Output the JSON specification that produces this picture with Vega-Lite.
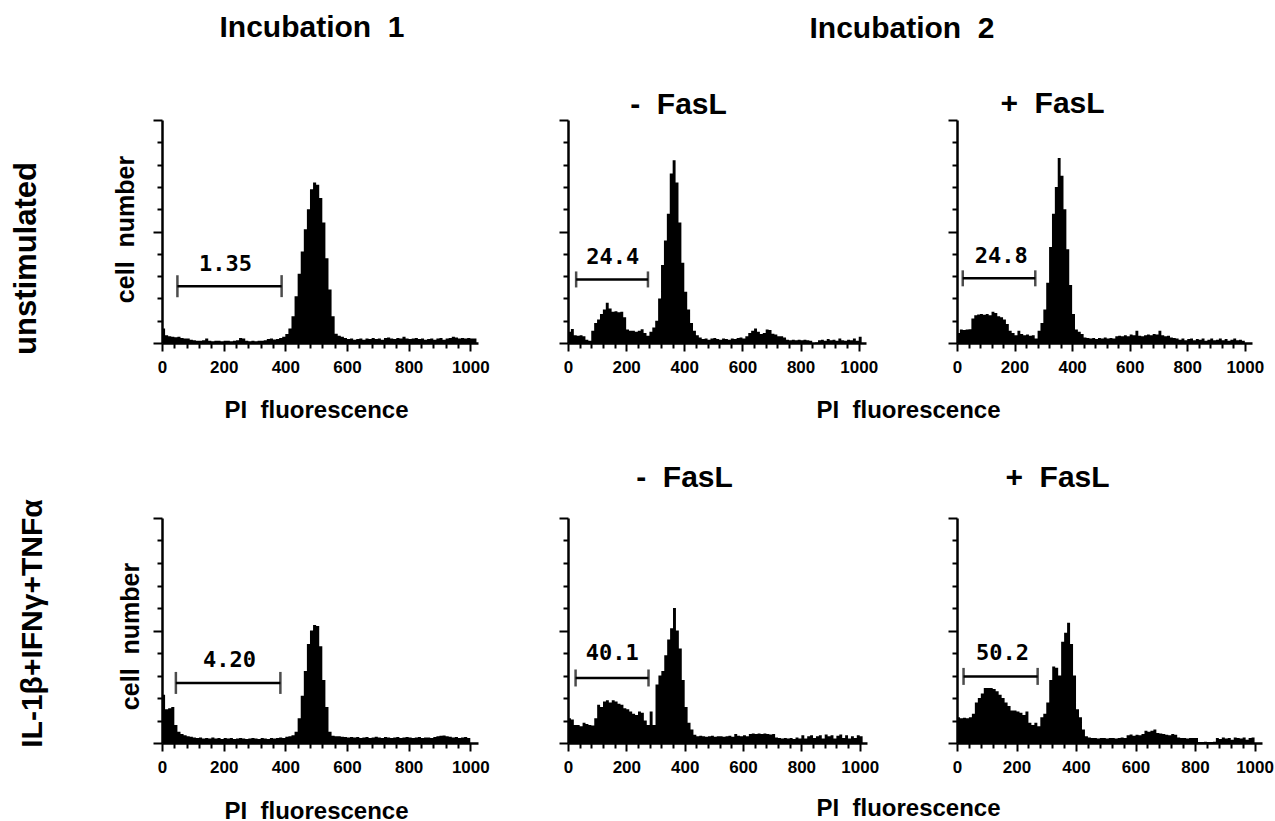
{
"$schema": "https://vega.github.io/schema/vega-lite/v6.json",
"background": "white",
"padding": {"left": 10, "top": 13, "right": 5, "bottom": 5},
"columns": 3,
"spacing": {"row": 175, "column": 90},
"bounds": "flush",
"align": "each",
"datasets": {
"h": [
{"p":"a","x":0,"y":0.65},{"p":"a","x":10,"y":0.35},{"p":"a","x":20,"y":0.3},{"p":"a","x":30,"y":0.28},{"p":"a","x":40,"y":0.26},{"p":"a","x":50,"y":0.28},{"p":"a","x":60,"y":0.22},{"p":"a","x":70,"y":0.2},{"p":"a","x":80,"y":0.2},{"p":"a","x":90,"y":0.15},
{"p":"a","x":100,"y":0.12},{"p":"a","x":110,"y":0.1},{"p":"a","x":120,"y":0.1},{"p":"a","x":130,"y":0.12},{"p":"a","x":140,"y":0.2},{"p":"a","x":150,"y":0.1},{"p":"a","x":160,"y":0.08},{"p":"a","x":170,"y":0.1},{"p":"a","x":180,"y":0.1},{"p":"a","x":190,"y":0.08},
{"p":"a","x":200,"y":0.1},{"p":"a","x":210,"y":0.1},{"p":"a","x":220,"y":0.08},{"p":"a","x":230,"y":0.1},{"p":"a","x":240,"y":0.12},{"p":"a","x":250,"y":0.22},{"p":"a","x":260,"y":0.2},{"p":"a","x":270,"y":0.1},{"p":"a","x":280,"y":0.08},{"p":"a","x":290,"y":0.1},
{"p":"a","x":300,"y":0.08},{"p":"a","x":310,"y":0.1},{"p":"a","x":320,"y":0.1},{"p":"a","x":330,"y":0.12},{"p":"a","x":340,"y":0.18},{"p":"a","x":350,"y":0.2},{"p":"a","x":360,"y":0.16},{"p":"a","x":370,"y":0.18},{"p":"a","x":380,"y":0.22},{"p":"a","x":390,"y":0.28},
{"p":"a","x":400,"y":0.4},{"p":"a","x":410,"y":0.65},{"p":"a","x":420,"y":1.2},{"p":"a","x":430,"y":2.1},{"p":"a","x":440,"y":3.1},{"p":"a","x":450,"y":4.1},{"p":"a","x":460,"y":5.1},{"p":"a","x":470,"y":6.0},{"p":"a","x":480,"y":6.9},{"p":"a","x":490,"y":7.2},
{"p":"a","x":500,"y":7.1},{"p":"a","x":510,"y":6.5},{"p":"a","x":520,"y":5.4},{"p":"a","x":530,"y":3.8},{"p":"a","x":540,"y":2.4},{"p":"a","x":550,"y":1.2},{"p":"a","x":560,"y":0.42},{"p":"a","x":570,"y":0.32},{"p":"a","x":580,"y":0.28},{"p":"a","x":590,"y":0.22},
{"p":"a","x":600,"y":0.18},{"p":"a","x":610,"y":0.2},{"p":"a","x":620,"y":0.15},{"p":"a","x":630,"y":0.18},{"p":"a","x":640,"y":0.2},{"p":"a","x":650,"y":0.15},{"p":"a","x":660,"y":0.2},{"p":"a","x":670,"y":0.18},{"p":"a","x":680,"y":0.22},{"p":"a","x":690,"y":0.18},
{"p":"a","x":700,"y":0.2},{"p":"a","x":710,"y":0.15},{"p":"a","x":720,"y":0.22},{"p":"a","x":730,"y":0.25},{"p":"a","x":740,"y":0.2},{"p":"a","x":750,"y":0.18},{"p":"a","x":760,"y":0.22},{"p":"a","x":770,"y":0.2},{"p":"a","x":780,"y":0.28},{"p":"a","x":790,"y":0.2},
{"p":"a","x":800,"y":0.18},{"p":"a","x":810,"y":0.2},{"p":"a","x":820,"y":0.22},{"p":"a","x":830,"y":0.18},{"p":"a","x":840,"y":0.2},{"p":"a","x":850,"y":0.15},{"p":"a","x":860,"y":0.18},{"p":"a","x":870,"y":0.2},{"p":"a","x":880,"y":0.15},{"p":"a","x":890,"y":0.2},
{"p":"a","x":900,"y":0.22},{"p":"a","x":910,"y":0.15},{"p":"a","x":920,"y":0.2},{"p":"a","x":930,"y":0.22},{"p":"a","x":940,"y":0.28},{"p":"a","x":950,"y":0.25},{"p":"a","x":960,"y":0.2},{"p":"a","x":970,"y":0.22},{"p":"a","x":980,"y":0.2},{"p":"a","x":990,"y":0.22},
{"p":"a","x":1000,"y":0.2},{"p":"a","x":1010,"y":0.2},{"p":"a","x":1020,"y":0.2},

{"p":"b","x":0,"y":0.5},{"p":"b","x":10,"y":0.63},{"p":"b","x":20,"y":0.35},{"p":"b","x":30,"y":0.33},{"p":"b","x":40,"y":0.35},{"p":"b","x":50,"y":0.3},{"p":"b","x":60,"y":0.15},{"p":"b","x":70,"y":0.1},{"p":"b","x":80,"y":0.55},{"p":"b","x":90,"y":0.9},
{"p":"b","x":100,"y":1.05},{"p":"b","x":110,"y":1.3},{"p":"b","x":120,"y":1.5},{"p":"b","x":130,"y":1.8},{"p":"b","x":140,"y":1.55},{"p":"b","x":150,"y":1.4},{"p":"b","x":160,"y":1.42},{"p":"b","x":170,"y":1.38},{"p":"b","x":180,"y":1.4},{"p":"b","x":190,"y":1.15},
{"p":"b","x":200,"y":0.6},{"p":"b","x":210,"y":0.55},{"p":"b","x":220,"y":0.55},{"p":"b","x":230,"y":0.5},{"p":"b","x":240,"y":0.55},{"p":"b","x":250,"y":0.62},{"p":"b","x":260,"y":0.45},{"p":"b","x":270,"y":0.33},{"p":"b","x":280,"y":0.5},{"p":"b","x":290,"y":0.7},
{"p":"b","x":300,"y":1.0},{"p":"b","x":310,"y":2.0},{"p":"b","x":320,"y":3.5},{"p":"b","x":330,"y":4.6},{"p":"b","x":340,"y":5.8},{"p":"b","x":350,"y":7.6},{"p":"b","x":360,"y":8.2},{"p":"b","x":370,"y":7.2},{"p":"b","x":380,"y":5.4},{"p":"b","x":390,"y":3.6},
{"p":"b","x":400,"y":2.3},{"p":"b","x":410,"y":1.5},{"p":"b","x":420,"y":0.9},{"p":"b","x":430,"y":0.55},{"p":"b","x":440,"y":0.35},{"p":"b","x":450,"y":0.25},{"p":"b","x":460,"y":0.18},{"p":"b","x":470,"y":0.2},{"p":"b","x":480,"y":0.15},{"p":"b","x":490,"y":0.2},
{"p":"b","x":500,"y":0.22},{"p":"b","x":510,"y":0.18},{"p":"b","x":520,"y":0.15},{"p":"b","x":530,"y":0.2},{"p":"b","x":540,"y":0.18},{"p":"b","x":550,"y":0.15},{"p":"b","x":560,"y":0.2},{"p":"b","x":570,"y":0.18},{"p":"b","x":580,"y":0.22},{"p":"b","x":590,"y":0.25},
{"p":"b","x":600,"y":0.2},{"p":"b","x":610,"y":0.3},{"p":"b","x":620,"y":0.45},{"p":"b","x":630,"y":0.55},{"p":"b","x":640,"y":0.65},{"p":"b","x":650,"y":0.5},{"p":"b","x":660,"y":0.4},{"p":"b","x":670,"y":0.45},{"p":"b","x":680,"y":0.6},{"p":"b","x":690,"y":0.58},
{"p":"b","x":700,"y":0.42},{"p":"b","x":710,"y":0.38},{"p":"b","x":720,"y":0.3},{"p":"b","x":730,"y":0.3},{"p":"b","x":740,"y":0.25},{"p":"b","x":750,"y":0.15},{"p":"b","x":760,"y":0.12},{"p":"b","x":770,"y":0.15},{"p":"b","x":780,"y":0.12},{"p":"b","x":790,"y":0.15},
{"p":"b","x":800,"y":0.12},{"p":"b","x":810,"y":0.15},{"p":"b","x":820,"y":0.12},{"p":"b","x":830,"y":0.1},{"p":"b","x":840,"y":0.0},{"p":"b","x":850,"y":0.02},{"p":"b","x":860,"y":0.12},{"p":"b","x":870,"y":0.15},{"p":"b","x":880,"y":0.1},{"p":"b","x":890,"y":0.18},
{"p":"b","x":900,"y":0.12},{"p":"b","x":910,"y":0.15},{"p":"b","x":920,"y":0.1},{"p":"b","x":930,"y":0.2},{"p":"b","x":940,"y":0.12},{"p":"b","x":950,"y":0.1},{"p":"b","x":960,"y":0.15},{"p":"b","x":970,"y":0.12},{"p":"b","x":980,"y":0.2},{"p":"b","x":990,"y":0.1},
{"p":"b","x":1000,"y":0.28},{"p":"b","x":1010,"y":0.1},

{"p":"c","x":0,"y":0.45},{"p":"c","x":10,"y":0.6},{"p":"c","x":20,"y":0.58},{"p":"c","x":30,"y":0.6},{"p":"c","x":40,"y":0.62},{"p":"c","x":50,"y":1.1},{"p":"c","x":60,"y":1.25},{"p":"c","x":70,"y":1.28},{"p":"c","x":80,"y":1.3},{"p":"c","x":90,"y":1.27},
{"p":"c","x":100,"y":1.3},{"p":"c","x":110,"y":1.25},{"p":"c","x":120,"y":1.4},{"p":"c","x":130,"y":1.35},{"p":"c","x":140,"y":1.2},{"p":"c","x":150,"y":1.15},{"p":"c","x":160,"y":1.05},{"p":"c","x":170,"y":0.85},{"p":"c","x":180,"y":0.55},{"p":"c","x":190,"y":0.45},
{"p":"c","x":200,"y":0.35},{"p":"c","x":210,"y":0.55},{"p":"c","x":220,"y":0.4},{"p":"c","x":230,"y":0.35},{"p":"c","x":240,"y":0.38},{"p":"c","x":250,"y":0.32},{"p":"c","x":260,"y":0.35},{"p":"c","x":270,"y":0.2},{"p":"c","x":280,"y":0.55},{"p":"c","x":290,"y":0.9},
{"p":"c","x":300,"y":1.5},{"p":"c","x":310,"y":2.7},{"p":"c","x":320,"y":4.3},{"p":"c","x":330,"y":5.8},{"p":"c","x":340,"y":7.0},{"p":"c","x":350,"y":8.3},{"p":"c","x":360,"y":7.5},{"p":"c","x":370,"y":6.0},{"p":"c","x":380,"y":4.2},{"p":"c","x":390,"y":2.6},
{"p":"c","x":400,"y":1.3},{"p":"c","x":410,"y":0.6},{"p":"c","x":420,"y":0.5},{"p":"c","x":430,"y":0.4},{"p":"c","x":440,"y":0.25},{"p":"c","x":450,"y":0.22},{"p":"c","x":460,"y":0.2},{"p":"c","x":470,"y":0.22},{"p":"c","x":480,"y":0.18},{"p":"c","x":490,"y":0.22},
{"p":"c","x":500,"y":0.2},{"p":"c","x":510,"y":0.25},{"p":"c","x":520,"y":0.2},{"p":"c","x":530,"y":0.22},{"p":"c","x":540,"y":0.2},{"p":"c","x":550,"y":0.3},{"p":"c","x":560,"y":0.32},{"p":"c","x":570,"y":0.3},{"p":"c","x":580,"y":0.35},{"p":"c","x":590,"y":0.3},
{"p":"c","x":600,"y":0.38},{"p":"c","x":610,"y":0.35},{"p":"c","x":620,"y":0.55},{"p":"c","x":630,"y":0.32},{"p":"c","x":640,"y":0.3},{"p":"c","x":650,"y":0.35},{"p":"c","x":660,"y":0.38},{"p":"c","x":670,"y":0.35},{"p":"c","x":680,"y":0.4},{"p":"c","x":690,"y":0.38},
{"p":"c","x":700,"y":0.55},{"p":"c","x":710,"y":0.35},{"p":"c","x":720,"y":0.3},{"p":"c","x":730,"y":0.32},{"p":"c","x":740,"y":0.25},{"p":"c","x":750,"y":0.22},{"p":"c","x":760,"y":0.2},{"p":"c","x":770,"y":0.15},{"p":"c","x":780,"y":0.2},{"p":"c","x":790,"y":0.12},
{"p":"c","x":800,"y":0.18},{"p":"c","x":810,"y":0.2},{"p":"c","x":820,"y":0.12},{"p":"c","x":830,"y":0.18},{"p":"c","x":840,"y":0.15},{"p":"c","x":850,"y":0.2},{"p":"c","x":860,"y":0.1},{"p":"c","x":870,"y":0.15},{"p":"c","x":880,"y":0.2},{"p":"c","x":890,"y":0.12},
{"p":"c","x":900,"y":0.15},{"p":"c","x":910,"y":0.2},{"p":"c","x":920,"y":0.12},{"p":"c","x":930,"y":0.18},{"p":"c","x":940,"y":0.1},{"p":"c","x":950,"y":0.15},{"p":"c","x":960,"y":0.2},{"p":"c","x":970,"y":0.12},{"p":"c","x":980,"y":0.15},{"p":"c","x":990,"y":0.1},
{"p":"c","x":1000,"y":0.3},

{"p":"d","x":0,"y":2.15},{"p":"d","x":10,"y":1.5},{"p":"d","x":20,"y":1.55},{"p":"d","x":30,"y":1.6},{"p":"d","x":40,"y":0.8},{"p":"d","x":50,"y":0.5},{"p":"d","x":60,"y":0.4},{"p":"d","x":70,"y":0.35},{"p":"d","x":80,"y":0.3},{"p":"d","x":90,"y":0.28},
{"p":"d","x":100,"y":0.25},{"p":"d","x":110,"y":0.22},{"p":"d","x":120,"y":0.25},{"p":"d","x":130,"y":0.2},{"p":"d","x":140,"y":0.22},{"p":"d","x":150,"y":0.2},{"p":"d","x":160,"y":0.24},{"p":"d","x":170,"y":0.2},{"p":"d","x":180,"y":0.22},{"p":"d","x":190,"y":0.18},
{"p":"d","x":200,"y":0.22},{"p":"d","x":210,"y":0.2},{"p":"d","x":220,"y":0.22},{"p":"d","x":230,"y":0.18},{"p":"d","x":240,"y":0.2},{"p":"d","x":250,"y":0.22},{"p":"d","x":260,"y":0.2},{"p":"d","x":270,"y":0.18},{"p":"d","x":280,"y":0.2},{"p":"d","x":290,"y":0.22},
{"p":"d","x":300,"y":0.2},{"p":"d","x":310,"y":0.18},{"p":"d","x":320,"y":0.22},{"p":"d","x":330,"y":0.2},{"p":"d","x":340,"y":0.18},{"p":"d","x":350,"y":0.22},{"p":"d","x":360,"y":0.2},{"p":"d","x":370,"y":0.22},{"p":"d","x":380,"y":0.25},{"p":"d","x":390,"y":0.22},
{"p":"d","x":400,"y":0.28},{"p":"d","x":410,"y":0.3},{"p":"d","x":420,"y":0.35},{"p":"d","x":430,"y":0.5},{"p":"d","x":440,"y":1.1},{"p":"d","x":450,"y":2.1},{"p":"d","x":460,"y":3.2},{"p":"d","x":470,"y":4.4},{"p":"d","x":480,"y":5.0},{"p":"d","x":490,"y":5.25},
{"p":"d","x":500,"y":5.2},{"p":"d","x":510,"y":4.3},{"p":"d","x":520,"y":2.8},{"p":"d","x":530,"y":1.6},{"p":"d","x":540,"y":0.5},{"p":"d","x":550,"y":0.32},{"p":"d","x":560,"y":0.3},{"p":"d","x":570,"y":0.3},{"p":"d","x":580,"y":0.28},{"p":"d","x":590,"y":0.27},
{"p":"d","x":600,"y":0.25},{"p":"d","x":610,"y":0.27},{"p":"d","x":620,"y":0.25},{"p":"d","x":630,"y":0.27},{"p":"d","x":640,"y":0.22},{"p":"d","x":650,"y":0.25},{"p":"d","x":660,"y":0.27},{"p":"d","x":670,"y":0.22},{"p":"d","x":680,"y":0.25},{"p":"d","x":690,"y":0.28},
{"p":"d","x":700,"y":0.25},{"p":"d","x":710,"y":0.22},{"p":"d","x":720,"y":0.27},{"p":"d","x":730,"y":0.25},{"p":"d","x":740,"y":0.22},{"p":"d","x":750,"y":0.25},{"p":"d","x":760,"y":0.27},{"p":"d","x":770,"y":0.22},{"p":"d","x":780,"y":0.25},{"p":"d","x":790,"y":0.27},
{"p":"d","x":800,"y":0.25},{"p":"d","x":810,"y":0.22},{"p":"d","x":820,"y":0.25},{"p":"d","x":830,"y":0.27},{"p":"d","x":840,"y":0.22},{"p":"d","x":850,"y":0.25},{"p":"d","x":860,"y":0.24},{"p":"d","x":870,"y":0.22},{"p":"d","x":880,"y":0.27},{"p":"d","x":890,"y":0.3},
{"p":"d","x":900,"y":0.32},{"p":"d","x":910,"y":0.33},{"p":"d","x":920,"y":0.3},{"p":"d","x":930,"y":0.28},{"p":"d","x":940,"y":0.25},{"p":"d","x":950,"y":0.27},{"p":"d","x":960,"y":0.22},{"p":"d","x":970,"y":0.25},{"p":"d","x":980,"y":0.27},{"p":"d","x":990,"y":0.22},
{"p":"d","x":1000,"y":0.25},

{"p":"e","x":0,"y":1.1},{"p":"e","x":10,"y":1.05},{"p":"e","x":20,"y":0.8},{"p":"e","x":30,"y":0.8},{"p":"e","x":40,"y":0.75},{"p":"e","x":50,"y":0.9},{"p":"e","x":60,"y":0.85},{"p":"e","x":70,"y":0.8},{"p":"e","x":80,"y":0.78},{"p":"e","x":90,"y":1.1},
{"p":"e","x":100,"y":1.7},{"p":"e","x":110,"y":1.6},{"p":"e","x":120,"y":1.85},{"p":"e","x":130,"y":1.9},{"p":"e","x":140,"y":1.8},{"p":"e","x":150,"y":1.9},{"p":"e","x":160,"y":1.85},{"p":"e","x":170,"y":1.75},{"p":"e","x":180,"y":1.7},{"p":"e","x":190,"y":1.55},
{"p":"e","x":200,"y":1.5},{"p":"e","x":210,"y":1.4},{"p":"e","x":220,"y":1.3},{"p":"e","x":230,"y":1.25},{"p":"e","x":240,"y":1.4},{"p":"e","x":250,"y":1.35},{"p":"e","x":260,"y":1.0},{"p":"e","x":270,"y":0.8},{"p":"e","x":280,"y":1.4},{"p":"e","x":290,"y":0.8},
{"p":"e","x":300,"y":2.6},{"p":"e","x":310,"y":3.0},{"p":"e","x":320,"y":3.2},{"p":"e","x":330,"y":3.9},{"p":"e","x":340,"y":4.6},{"p":"e","x":350,"y":5.1},{"p":"e","x":360,"y":6.0},{"p":"e","x":370,"y":5.0},{"p":"e","x":380,"y":4.2},{"p":"e","x":390,"y":2.8},
{"p":"e","x":400,"y":1.6},{"p":"e","x":410,"y":0.9},{"p":"e","x":420,"y":0.6},{"p":"e","x":430,"y":0.37},{"p":"e","x":440,"y":0.3},{"p":"e","x":450,"y":0.32},{"p":"e","x":460,"y":0.3},{"p":"e","x":470,"y":0.28},{"p":"e","x":480,"y":0.3},{"p":"e","x":490,"y":0.32},
{"p":"e","x":500,"y":0.28},{"p":"e","x":510,"y":0.3},{"p":"e","x":520,"y":0.3},{"p":"e","x":530,"y":0.28},{"p":"e","x":540,"y":0.3},{"p":"e","x":550,"y":0.32},{"p":"e","x":560,"y":0.28},{"p":"e","x":570,"y":0.4},{"p":"e","x":580,"y":0.32},{"p":"e","x":590,"y":0.3},
{"p":"e","x":600,"y":0.35},{"p":"e","x":610,"y":0.3},{"p":"e","x":620,"y":0.4},{"p":"e","x":630,"y":0.42},{"p":"e","x":640,"y":0.4},{"p":"e","x":650,"y":0.42},{"p":"e","x":660,"y":0.4},{"p":"e","x":670,"y":0.42},{"p":"e","x":680,"y":0.4},{"p":"e","x":690,"y":0.38},
{"p":"e","x":700,"y":0.4},{"p":"e","x":710,"y":0.25},{"p":"e","x":720,"y":0.22},{"p":"e","x":730,"y":0.2},{"p":"e","x":740,"y":0.22},{"p":"e","x":750,"y":0.2},{"p":"e","x":760,"y":0.22},{"p":"e","x":770,"y":0.18},{"p":"e","x":780,"y":0.25},{"p":"e","x":790,"y":0.2},
{"p":"e","x":800,"y":0.35},{"p":"e","x":810,"y":0.2},{"p":"e","x":820,"y":0.3},{"p":"e","x":830,"y":0.35},{"p":"e","x":840,"y":0.22},{"p":"e","x":850,"y":0.3},{"p":"e","x":860,"y":0.35},{"p":"e","x":870,"y":0.2},{"p":"e","x":880,"y":0.38},{"p":"e","x":890,"y":0.3},
{"p":"e","x":900,"y":0.35},{"p":"e","x":910,"y":0.2},{"p":"e","x":920,"y":0.32},{"p":"e","x":930,"y":0.38},{"p":"e","x":940,"y":0.22},{"p":"e","x":950,"y":0.35},{"p":"e","x":960,"y":0.2},{"p":"e","x":970,"y":0.3},{"p":"e","x":980,"y":0.22},{"p":"e","x":990,"y":0.35},
{"p":"e","x":1000,"y":0.3},{"p":"e","x":1010,"y":0.4},

{"p":"f","x":0,"y":1.15},{"p":"f","x":10,"y":1.1},{"p":"f","x":20,"y":1.12},{"p":"f","x":30,"y":1.1},{"p":"f","x":40,"y":1.15},{"p":"f","x":50,"y":1.3},{"p":"f","x":60,"y":1.8},{"p":"f","x":70,"y":2.0},{"p":"f","x":80,"y":2.2},{"p":"f","x":90,"y":2.45},
{"p":"f","x":100,"y":2.45},{"p":"f","x":110,"y":2.45},{"p":"f","x":120,"y":2.4},{"p":"f","x":130,"y":2.3},{"p":"f","x":140,"y":2.15},{"p":"f","x":150,"y":2.0},{"p":"f","x":160,"y":1.8},{"p":"f","x":170,"y":1.65},{"p":"f","x":180,"y":1.45},{"p":"f","x":190,"y":1.45},
{"p":"f","x":200,"y":1.4},{"p":"f","x":210,"y":1.35},{"p":"f","x":220,"y":1.25},{"p":"f","x":230,"y":1.4},{"p":"f","x":240,"y":0.9},{"p":"f","x":250,"y":0.8},{"p":"f","x":260,"y":0.9},{"p":"f","x":270,"y":0.75},{"p":"f","x":280,"y":1.15},{"p":"f","x":290,"y":1.3},
{"p":"f","x":300,"y":1.8},{"p":"f","x":310,"y":2.8},{"p":"f","x":320,"y":3.4},{"p":"f","x":330,"y":3.35},{"p":"f","x":340,"y":3.0},{"p":"f","x":350,"y":4.5},{"p":"f","x":360,"y":4.9},{"p":"f","x":370,"y":5.35},{"p":"f","x":380,"y":4.4},{"p":"f","x":390,"y":3.0},
{"p":"f","x":400,"y":1.5},{"p":"f","x":410,"y":1.15},{"p":"f","x":420,"y":0.6},{"p":"f","x":430,"y":0.3},{"p":"f","x":440,"y":0.25},{"p":"f","x":450,"y":0.22},{"p":"f","x":460,"y":0.22},{"p":"f","x":470,"y":0.2},{"p":"f","x":480,"y":0.22},{"p":"f","x":490,"y":0.22},
{"p":"f","x":500,"y":0.2},{"p":"f","x":510,"y":0.22},{"p":"f","x":520,"y":0.22},{"p":"f","x":530,"y":0.2},{"p":"f","x":540,"y":0.22},{"p":"f","x":550,"y":0.25},{"p":"f","x":560,"y":0.22},{"p":"f","x":570,"y":0.35},{"p":"f","x":580,"y":0.38},{"p":"f","x":590,"y":0.32},
{"p":"f","x":600,"y":0.37},{"p":"f","x":610,"y":0.35},{"p":"f","x":620,"y":0.4},{"p":"f","x":630,"y":0.55},{"p":"f","x":640,"y":0.5},{"p":"f","x":650,"y":0.55},{"p":"f","x":660,"y":0.6},{"p":"f","x":670,"y":0.45},{"p":"f","x":680,"y":0.42},{"p":"f","x":690,"y":0.4},
{"p":"f","x":700,"y":0.37},{"p":"f","x":710,"y":0.35},{"p":"f","x":720,"y":0.4},{"p":"f","x":730,"y":0.37},{"p":"f","x":740,"y":0.25},{"p":"f","x":750,"y":0.22},{"p":"f","x":760,"y":0.22},{"p":"f","x":770,"y":0.2},{"p":"f","x":780,"y":0.22},{"p":"f","x":790,"y":0.22},
{"p":"f","x":800,"y":0.22},{"p":"f","x":810,"y":0.05},{"p":"f","x":820,"y":0.05},{"p":"f","x":830,"y":0.06},{"p":"f","x":840,"y":0.05},{"p":"f","x":850,"y":0.05},{"p":"f","x":860,"y":0.06},{"p":"f","x":870,"y":0.22},{"p":"f","x":880,"y":0.18},{"p":"f","x":890,"y":0.25},
{"p":"f","x":900,"y":0.2},{"p":"f","x":910,"y":0.22},{"p":"f","x":920,"y":0.15},{"p":"f","x":930,"y":0.25},{"p":"f","x":940,"y":0.22},{"p":"f","x":950,"y":0.2},{"p":"f","x":960,"y":0.25},{"p":"f","x":970,"y":0.15},{"p":"f","x":980,"y":0.22},{"p":"f","x":990,"y":0.25},
{"p":"f","x":1000,"y":0.2}
],
"g": [
{"p":"a","x1":50,"x2":388,"gy":2.55,"lx":206,"ly":3.55,"label":"1.35"},
{"p":"b","x1":28,"x2":275,"gy":2.85,"lx":154,"ly":3.85,"label":"24.4"},
{"p":"c","x1":20,"x2":272,"gy":2.9,"lx":154,"ly":3.9,"label":"24.8"},
{"p":"d","x1":45,"x2":384,"gy":2.67,"lx":219,"ly":3.67,"label":"4.20"},
{"p":"e","x1":26,"x2":276,"gy":2.89,"lx":152,"ly":4.0,"label":"40.1"},
{"p":"f","x1":22,"x2":271,"gy":2.96,"lx":153,"ly":4.0,"label":"50.2"}
]
},
"concat": [
{
"width": 316, "height": 223,
"title": {"text": "Incubation \u00a01", "frame": "group", "dx": -8, "offset": 76},
"resolve": {"axis": {"x": "independent", "y": "independent"}},
"layer": [
{"data": {"name": "h"}, "transform": [{"filter": "datum.p === 'a'"}],
 "mark": {"type": "area", "interpolate": "step-after", "color": "black"},
 "encoding": {
  "x": {"field": "x", "type": "quantitative", "scale": {"domain": [0, 1025], "nice": false, "zero": false},
   "axis": {"orient": "bottom", "values": [0,40,80,120,160,200,240,280,320,360,400,440,480,520,560,600,640,680,720,760,800,840,880,920,960,1000], "format": "d", "labelExpr": "datum.value % 200 === 0 ? datum.label : ''", "labelFlush": false, "labelOverlap": false, "labelBaseline": "alphabetic", "labelPadding": 21, "tickSize": {"condition": {"test": "datum.value % 200 === 0", "value": 8}, "value": 5}, "title": "PI \u00a0fluorescence", "titleFontSize": 24, "titleX": 154, "titleY": 74, "titleBaseline": "alphabetic", "titleAlign": "center", "titleAngle": 0}},
  "y": {"field": "y", "type": "quantitative", "scale": {"domain": [0, 10], "nice": false, "zero": false},
   "axis": {"values": [0,1,2,3,4,5,6,7,8,9,10], "labels": false, "tickSize": {"condition": {"test": "datum.value % 5 === 0", "value": 9}, "value": 5}, "title": "cell \u00a0number", "titleFontSize": 25, "titleX": -37, "titleY": 109, "titleAngle": 270, "titleAlign": "center", "titleBaseline": "middle"}}
 }},
{"data": {"name": "g"}, "transform": [{"filter": "datum.p === 'a'"}],
 "mark": {"type": "rule", "color": "black", "strokeWidth": 2.5},
 "encoding": {"x": {"field": "x1", "type": "quantitative", "scale": {"domain": [0, 1025], "nice": false, "zero": false}, "axis": null}, "x2": {"field": "x2"}, "y": {"field": "gy", "type": "quantitative", "scale": {"domain": [0, 10], "nice": false, "zero": false}, "axis": null}}},
{"data": {"name": "g"}, "transform": [{"filter": "datum.p === 'a'"}, {"fold": ["x1", "x2"], "as": ["k", "xv"]}],
 "mark": {"type": "tick", "orient": "vertical", "color": "black", "size": 22, "thickness": 2.5},
 "encoding": {"x": {"field": "xv", "type": "quantitative", "scale": {"domain": [0, 1025], "nice": false, "zero": false}, "axis": null}, "y": {"field": "gy", "type": "quantitative", "scale": {"domain": [0, 10], "nice": false, "zero": false}, "axis": null}}},
{"data": {"name": "g"}, "transform": [{"filter": "datum.p === 'a'"}],
 "mark": {"type": "text", "font": "DejaVu Sans Mono", "fontWeight": "bold", "fontSize": 22, "align": "center", "baseline": "middle", "color": "black"},
 "encoding": {"x": {"field": "lx", "type": "quantitative", "scale": {"domain": [0, 1025], "nice": false, "zero": false}, "axis": null},
  "y": {"field": "ly", "type": "quantitative", "scale": {"domain": [0, 10], "nice": false, "zero": false}, "axis": {"orient": "left", "domain": false, "ticks": false, "labels": false, "title": "unstimulated", "titleFontSize": 31, "titleX": -136, "titleY": 138, "titleAngle": 270, "titleAlign": "center", "titleBaseline": "middle"}},
  "text": {"field": "label"}}}
]
},
{
"width": 298, "height": 223,
"title": {"text": "Incubation \u00a02", "frame": "group", "dx": 185, "offset": 45},
"resolve": {"axis": {"x": "independent", "y": "independent"}},
"layer": [
{"data": {"name": "h"}, "transform": [{"filter": "datum.p === 'b'"}],
 "mark": {"type": "area", "interpolate": "step-after", "color": "black"},
 "encoding": {
  "x": {"field": "x", "type": "quantitative", "scale": {"domain": [0, 1025], "nice": false, "zero": false},
   "axis": {"orient": "bottom", "values": [0,40,80,120,160,200,240,280,320,360,400,440,480,520,560,600,640,680,720,760,800,840,880,920,960,1000], "format": "d", "labelExpr": "datum.value % 200 === 0 ? datum.label : ''", "labelFlush": false, "labelOverlap": false, "labelBaseline": "alphabetic", "labelPadding": 21, "tickSize": {"condition": {"test": "datum.value % 200 === 0", "value": 8}, "value": 5}, "title": "PI \u00a0fluorescence", "titleFontSize": 24, "titleX": 340, "titleY": 74, "titleBaseline": "alphabetic", "titleAlign": "center", "titleAngle": 0}},
  "y": {"field": "y", "type": "quantitative", "scale": {"domain": [0, 10], "nice": false, "zero": false},
   "axis": {"values": [0,1,2,3,4,5,6,7,8,9,10], "labels": false, "tickSize": {"condition": {"test": "datum.value % 5 === 0", "value": 9}, "value": 5}, "title": null}}
 }},
{"data": {"name": "g"}, "transform": [{"filter": "datum.p === 'b'"}],
 "mark": {"type": "rule", "color": "black", "strokeWidth": 2.5},
 "encoding": {"x": {"field": "x1", "type": "quantitative", "scale": {"domain": [0, 1025], "nice": false, "zero": false}, "axis": null}, "x2": {"field": "x2"}, "y": {"field": "gy", "type": "quantitative", "scale": {"domain": [0, 10], "nice": false, "zero": false}, "axis": null}}},
{"data": {"name": "g"}, "transform": [{"filter": "datum.p === 'b'"}, {"fold": ["x1", "x2"], "as": ["k", "xv"]}],
 "mark": {"type": "tick", "orient": "vertical", "color": "black", "size": 16, "thickness": 2.5},
 "encoding": {"x": {"field": "xv", "type": "quantitative", "scale": {"domain": [0, 1025], "nice": false, "zero": false}, "axis": null}, "y": {"field": "gy", "type": "quantitative", "scale": {"domain": [0, 10], "nice": false, "zero": false}, "axis": null}}},
{"data": {"name": "g"}, "transform": [{"filter": "datum.p === 'b'"}],
 "mark": {"type": "text", "font": "DejaVu Sans Mono", "fontWeight": "bold", "fontSize": 22, "align": "center", "baseline": "middle", "color": "black"},
 "encoding": {"x": {"field": "lx", "type": "quantitative", "scale": {"domain": [0, 1025], "nice": false, "zero": false}, "axis": {"orient": "top", "domain": false, "ticks": false, "labels": false, "title": "- \u00a0FasL", "titleFontSize": 30, "titleX": 110, "titleY": -7, "titleAngle": 0, "titleAlign": "center", "titleBaseline": "alphabetic"}},
  "y": {"field": "ly", "type": "quantitative", "scale": {"domain": [0, 10], "nice": false, "zero": false}, "axis": null},
  "text": {"field": "label"}}}
]
},
{
"width": 295, "height": 223,
"title": {"text": "+ \u00a0FasL", "frame": "group", "dx": -52, "offset": 0},
"resolve": {"axis": {"x": "independent", "y": "independent"}},
"layer": [
{"data": {"name": "h"}, "transform": [{"filter": "datum.p === 'c'"}],
 "mark": {"type": "area", "interpolate": "step-after", "color": "black"},
 "encoding": {
  "x": {"field": "x", "type": "quantitative", "scale": {"domain": [0, 1025], "nice": false, "zero": false},
   "axis": {"orient": "bottom", "values": [0,40,80,120,160,200,240,280,320,360,400,440,480,520,560,600,640,680,720,760,800,840,880,920,960,1000], "format": "d", "labelExpr": "datum.value % 200 === 0 ? datum.label : ''", "labelFlush": false, "labelOverlap": false, "labelBaseline": "alphabetic", "labelPadding": 21, "tickSize": {"condition": {"test": "datum.value % 200 === 0", "value": 8}, "value": 5}, "title": null}},
  "y": {"field": "y", "type": "quantitative", "scale": {"domain": [0, 10], "nice": false, "zero": false},
   "axis": {"values": [0,1,2,3,4,5,6,7,8,9,10], "labels": false, "tickSize": {"condition": {"test": "datum.value % 5 === 0", "value": 9}, "value": 5}, "title": null}}
 }},
{"data": {"name": "g"}, "transform": [{"filter": "datum.p === 'c'"}],
 "mark": {"type": "rule", "color": "black", "strokeWidth": 2.5},
 "encoding": {"x": {"field": "x1", "type": "quantitative", "scale": {"domain": [0, 1025], "nice": false, "zero": false}, "axis": null}, "x2": {"field": "x2"}, "y": {"field": "gy", "type": "quantitative", "scale": {"domain": [0, 10], "nice": false, "zero": false}, "axis": null}}},
{"data": {"name": "g"}, "transform": [{"filter": "datum.p === 'c'"}, {"fold": ["x1", "x2"], "as": ["k", "xv"]}],
 "mark": {"type": "tick", "orient": "vertical", "color": "black", "size": 16, "thickness": 2.5},
 "encoding": {"x": {"field": "xv", "type": "quantitative", "scale": {"domain": [0, 1025], "nice": false, "zero": false}, "axis": null}, "y": {"field": "gy", "type": "quantitative", "scale": {"domain": [0, 10], "nice": false, "zero": false}, "axis": null}}},
{"data": {"name": "g"}, "transform": [{"filter": "datum.p === 'c'"}],
 "mark": {"type": "text", "font": "DejaVu Sans Mono", "fontWeight": "bold", "fontSize": 22, "align": "center", "baseline": "middle", "color": "black"},
 "encoding": {"x": {"field": "lx", "type": "quantitative", "scale": {"domain": [0, 1025], "nice": false, "zero": false}, "axis": null},
  "y": {"field": "ly", "type": "quantitative", "scale": {"domain": [0, 10], "nice": false, "zero": false}, "axis": null},
  "text": {"field": "label"}}}
]
},
{
"width": 316, "height": 225,
"resolve": {"axis": {"x": "independent", "y": "independent"}},
"layer": [
{"data": {"name": "h"}, "transform": [{"filter": "datum.p === 'd'"}],
 "mark": {"type": "area", "interpolate": "step-after", "color": "black"},
 "encoding": {
  "x": {"field": "x", "type": "quantitative", "scale": {"domain": [0, 1025], "nice": false, "zero": false},
   "axis": {"orient": "bottom", "values": [0,40,80,120,160,200,240,280,320,360,400,440,480,520,560,600,640,680,720,760,800,840,880,920,960,1000], "format": "d", "labelExpr": "datum.value % 200 === 0 ? datum.label : ''", "labelFlush": false, "labelOverlap": false, "labelBaseline": "alphabetic", "labelPadding": 21, "tickSize": {"condition": {"test": "datum.value % 200 === 0", "value": 8}, "value": 5}, "title": "PI \u00a0fluorescence", "titleFontSize": 24, "titleX": 154, "titleY": 75, "titleBaseline": "alphabetic", "titleAlign": "center", "titleAngle": 0}},
  "y": {"field": "y", "type": "quantitative", "scale": {"domain": [0, 10], "nice": false, "zero": false},
   "axis": {"values": [0,1,2,3,4,5,6,7,8,9,10], "labels": false, "tickSize": {"condition": {"test": "datum.value % 5 === 0", "value": 9}, "value": 5}, "title": "cell \u00a0number", "titleFontSize": 25, "titleX": -32, "titleY": 118, "titleAngle": 270, "titleAlign": "center", "titleBaseline": "middle"}}
 }},
{"data": {"name": "g"}, "transform": [{"filter": "datum.p === 'd'"}],
 "mark": {"type": "rule", "color": "black", "strokeWidth": 2.5},
 "encoding": {"x": {"field": "x1", "type": "quantitative", "scale": {"domain": [0, 1025], "nice": false, "zero": false}, "axis": null}, "x2": {"field": "x2"}, "y": {"field": "gy", "type": "quantitative", "scale": {"domain": [0, 10], "nice": false, "zero": false}, "axis": null}}},
{"data": {"name": "g"}, "transform": [{"filter": "datum.p === 'd'"}, {"fold": ["x1", "x2"], "as": ["k", "xv"]}],
 "mark": {"type": "tick", "orient": "vertical", "color": "black", "size": 22, "thickness": 2.5},
 "encoding": {"x": {"field": "xv", "type": "quantitative", "scale": {"domain": [0, 1025], "nice": false, "zero": false}, "axis": null}, "y": {"field": "gy", "type": "quantitative", "scale": {"domain": [0, 10], "nice": false, "zero": false}, "axis": null}}},
{"data": {"name": "g"}, "transform": [{"filter": "datum.p === 'd'"}],
 "mark": {"type": "text", "font": "DejaVu Sans Mono", "fontWeight": "bold", "fontSize": 22, "align": "center", "baseline": "middle", "color": "black"},
 "encoding": {"x": {"field": "lx", "type": "quantitative", "scale": {"domain": [0, 1025], "nice": false, "zero": false}, "axis": null},
  "y": {"field": "ly", "type": "quantitative", "scale": {"domain": [0, 10], "nice": false, "zero": false}, "axis": {"orient": "left", "domain": false, "ticks": false, "labels": false, "title": "IL-1β+IFNγ+TNFα", "titleFontSize": 30, "titleX": -130, "titleY": 105, "titleAngle": 270, "titleAlign": "center", "titleBaseline": "middle"}},
  "text": {"field": "label"}}}
]
},
{
"width": 299, "height": 225,
"title": {"text": "- \u00a0FasL", "frame": "group", "dx": -33, "offset": 24},
"resolve": {"axis": {"x": "independent", "y": "independent"}},
"layer": [
{"data": {"name": "h"}, "transform": [{"filter": "datum.p === 'e'"}],
 "mark": {"type": "area", "interpolate": "step-after", "color": "black"},
 "encoding": {
  "x": {"field": "x", "type": "quantitative", "scale": {"domain": [0, 1025], "nice": false, "zero": false},
   "axis": {"orient": "bottom", "values": [0,40,80,120,160,200,240,280,320,360,400,440,480,520,560,600,640,680,720,760,800,840,880,920,960,1000], "format": "d", "labelExpr": "datum.value % 200 === 0 ? datum.label : ''", "labelFlush": false, "labelOverlap": false, "labelBaseline": "alphabetic", "labelPadding": 21, "tickSize": {"condition": {"test": "datum.value % 200 === 0", "value": 8}, "value": 5}, "title": "PI \u00a0fluorescence", "titleFontSize": 24, "titleX": 340, "titleY": 72, "titleBaseline": "alphabetic", "titleAlign": "center", "titleAngle": 0}},
  "y": {"field": "y", "type": "quantitative", "scale": {"domain": [0, 10], "nice": false, "zero": false},
   "axis": {"values": [0,1,2,3,4,5,6,7,8,9,10], "labels": false, "tickSize": {"condition": {"test": "datum.value % 5 === 0", "value": 9}, "value": 5}, "title": null}}
 }},
{"data": {"name": "g"}, "transform": [{"filter": "datum.p === 'e'"}],
 "mark": {"type": "rule", "color": "black", "strokeWidth": 2.5},
 "encoding": {"x": {"field": "x1", "type": "quantitative", "scale": {"domain": [0, 1025], "nice": false, "zero": false}, "axis": null}, "x2": {"field": "x2"}, "y": {"field": "gy", "type": "quantitative", "scale": {"domain": [0, 10], "nice": false, "zero": false}, "axis": null}}},
{"data": {"name": "g"}, "transform": [{"filter": "datum.p === 'e'"}, {"fold": ["x1", "x2"], "as": ["k", "xv"]}],
 "mark": {"type": "tick", "orient": "vertical", "color": "black", "size": 17, "thickness": 2.5},
 "encoding": {"x": {"field": "xv", "type": "quantitative", "scale": {"domain": [0, 1025], "nice": false, "zero": false}, "axis": null}, "y": {"field": "gy", "type": "quantitative", "scale": {"domain": [0, 10], "nice": false, "zero": false}, "axis": null}}},
{"data": {"name": "g"}, "transform": [{"filter": "datum.p === 'e'"}],
 "mark": {"type": "text", "font": "DejaVu Sans Mono", "fontWeight": "bold", "fontSize": 22, "align": "center", "baseline": "middle", "color": "black"},
 "encoding": {"x": {"field": "lx", "type": "quantitative", "scale": {"domain": [0, 1025], "nice": false, "zero": false}, "axis": null},
  "y": {"field": "ly", "type": "quantitative", "scale": {"domain": [0, 10], "nice": false, "zero": false}, "axis": null},
  "text": {"field": "label"}}}
]
},
{
"width": 305, "height": 225,
"title": {"text": "+ \u00a0FasL", "frame": "group", "dx": -52, "offset": 24},
"resolve": {"axis": {"x": "independent", "y": "independent"}},
"layer": [
{"data": {"name": "h"}, "transform": [{"filter": "datum.p === 'f'"}],
 "mark": {"type": "area", "interpolate": "step-after", "color": "black"},
 "encoding": {
  "x": {"field": "x", "type": "quantitative", "scale": {"domain": [0, 1025], "nice": false, "zero": false},
   "axis": {"orient": "bottom", "values": [0,40,80,120,160,200,240,280,320,360,400,440,480,520,560,600,640,680,720,760,800,840,880,920,960,1000], "format": "d", "labelExpr": "datum.value % 200 === 0 ? datum.label : ''", "labelFlush": false, "labelOverlap": false, "labelBaseline": "alphabetic", "labelPadding": 21, "tickSize": {"condition": {"test": "datum.value % 200 === 0", "value": 8}, "value": 5}, "title": null}},
  "y": {"field": "y", "type": "quantitative", "scale": {"domain": [0, 10], "nice": false, "zero": false},
   "axis": {"values": [0,1,2,3,4,5,6,7,8,9,10], "labels": false, "tickSize": {"condition": {"test": "datum.value % 5 === 0", "value": 9}, "value": 5}, "title": null}}
 }},
{"data": {"name": "g"}, "transform": [{"filter": "datum.p === 'f'"}],
 "mark": {"type": "rule", "color": "black", "strokeWidth": 2.5},
 "encoding": {"x": {"field": "x1", "type": "quantitative", "scale": {"domain": [0, 1025], "nice": false, "zero": false}, "axis": null}, "x2": {"field": "x2"}, "y": {"field": "gy", "type": "quantitative", "scale": {"domain": [0, 10], "nice": false, "zero": false}, "axis": null}}},
{"data": {"name": "g"}, "transform": [{"filter": "datum.p === 'f'"}, {"fold": ["x1", "x2"], "as": ["k", "xv"]}],
 "mark": {"type": "tick", "orient": "vertical", "color": "black", "size": 17, "thickness": 2.5},
 "encoding": {"x": {"field": "xv", "type": "quantitative", "scale": {"domain": [0, 1025], "nice": false, "zero": false}, "axis": null}, "y": {"field": "gy", "type": "quantitative", "scale": {"domain": [0, 10], "nice": false, "zero": false}, "axis": null}}},
{"data": {"name": "g"}, "transform": [{"filter": "datum.p === 'f'"}],
 "mark": {"type": "text", "font": "DejaVu Sans Mono", "fontWeight": "bold", "fontSize": 22, "align": "center", "baseline": "middle", "color": "black"},
 "encoding": {"x": {"field": "lx", "type": "quantitative", "scale": {"domain": [0, 1025], "nice": false, "zero": false}, "axis": null},
  "y": {"field": "ly", "type": "quantitative", "scale": {"domain": [0, 10], "nice": false, "zero": false}, "axis": null},
  "text": {"field": "label"}}}
]
}
],
"config": {
"view": {"stroke": null},
"font": "Liberation Sans",
"axis": {"domainColor": "black", "domainWidth": 2.5, "tickColor": "black", "tickWidth": 2, "grid": false,
 "labelFont": "Liberation Sans", "labelFontWeight": "bold", "labelFontSize": 17, "labelColor": "black",
 "titleFont": "Liberation Sans", "titleFontWeight": "bold", "titleColor": "black"},
"title": {"font": "Liberation Sans", "fontWeight": "bold", "fontSize": 30, "color": "black", "baseline": "alphabetic"}
}
}
